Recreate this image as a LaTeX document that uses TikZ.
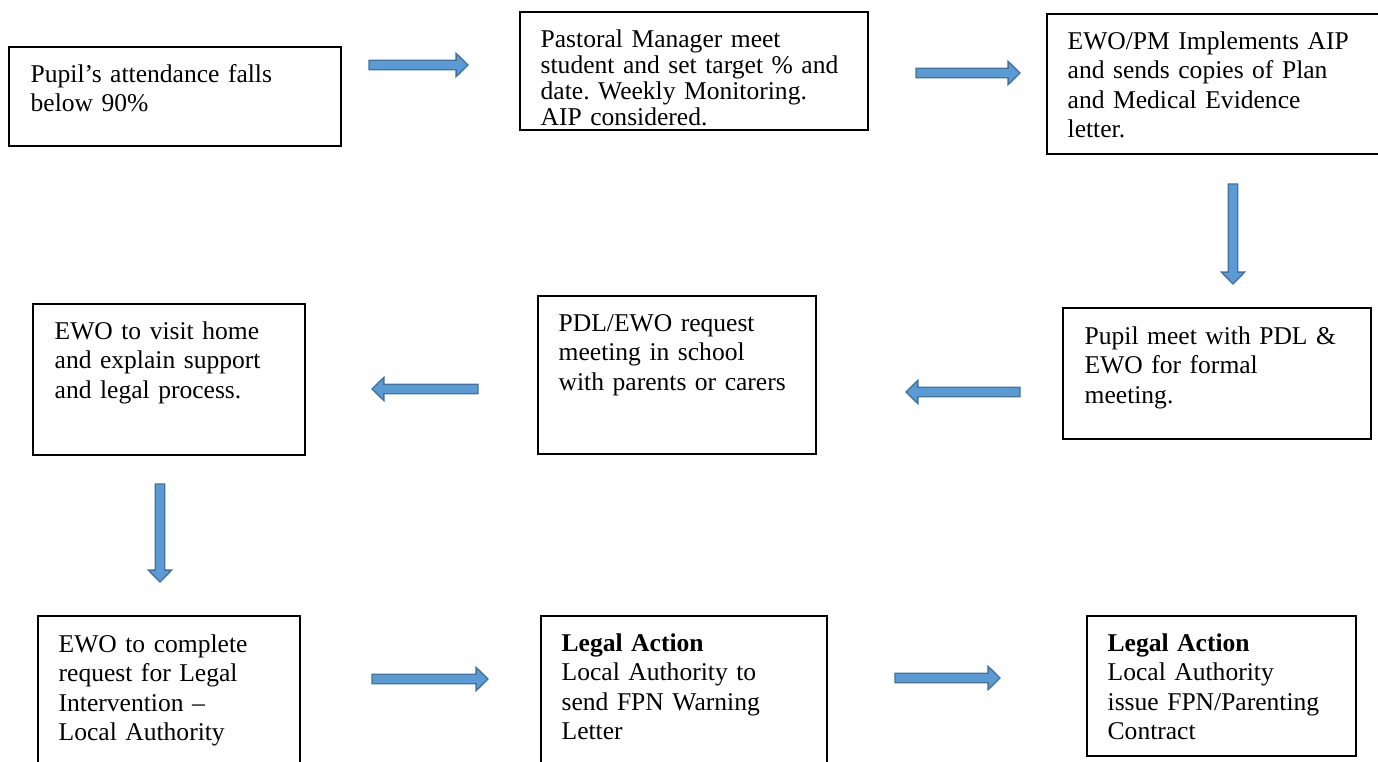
\documentclass[tikz,border=0pt]{standalone}
\usepackage{fontspec}
\setmainfont{Liberation Serif}
\frenchspacing
\usetikzlibrary{calc,fit}
\definecolor{arrowfill}{HTML}{5B9BD5}
\definecolor{arrowline}{HTML}{41719C}

\begin{document}
\begin{tikzpicture}[x=0.016cm,y=-0.016cm,
    stage/.style={draw,line width=0.7pt,inner sep=0pt},
    note/.style={anchor=base west,inner sep=0pt,text width=6cm,align=left,
      font=\fontsize{11.64pt}{13.39pt}\selectfont},
    flow/.style={draw=arrowline,fill=arrowfill,line width=0.6pt,
      to path={let \p1=(\tikztostart),\p2=(\tikztotarget),
        \p3=($(\p2)!5.4pt!(\p1)$) in
        ($(\p1)!2.2pt!90:(\p2)$) -- ($(\p3)!2.2pt!90:(\p2)$) --
        ($(\p3)!5.3pt!90:(\p2)$) -- (\p2) -- ($(\p3)!5.3pt!-90:(\p2)$) --
        ($(\p3)!2.2pt!-90:(\p2)$) -- ($(\p1)!2.2pt!-90:(\p2)$) -- cycle}}]
  \useasboundingbox (0,0) rectangle (1378,762);
  \clip (0,0) rectangle (1378,762);

  \node[stage,fit={(9,47) (341,146)}] (pupil) {};
  \node[note] (pupiltext) at ([shift={(22,36)}]pupil.north west)
    {Pupil’s attendance falls\\below 90\%};
  \node[stage,fit={(520,12) (868,130)}] (manager) {};
  \node[note,font=\fontsize{11.64pt}{11.84pt}\selectfont] (managertext)
    at ([shift={(21,36)}]manager.north west)
    {Pastoral Manager meet\\student and set target \% and\\date. Weekly Monitoring.\\AIP considered.};
  \node[stage,fit={(1047,14) (1400,154)}] (plan) {};
  \node[note] (plantext) at ([shift={(21,36)}]plan.north west)
    {EWO/PM Implements AIP\\and sends copies of Plan\\and Medical Evidence\\letter.};

  \node[stage,fit={(1063,308) (1371,439)}] (formal) {};
  \node[note] (formaltext) at ([shift={(22,37)}]formal.north west)
    {Pupil meet with PDL \&\\EWO for formal\\meeting.};
  \node[stage,fit={(538,296) (816,454)}] (parents) {};
  \node[note] (parentstext) at ([shift={(21,36)}]parents.north west)
    {PDL/EWO request\\meeting in school\\with parents or carers};
  \node[stage,fit={(33,304) (305,455)}] (visit) {};
  \node[note] (visittext) at ([shift={(22,36)}]visit.north west)
    {EWO to visit home\\and explain support\\and legal process.};

  \node[stage,fit={(38,616) (300,790)}] (request) {};
  \node[note] (requesttext) at ([shift={(21,37)}]request.north west)
    {EWO to complete\\request for Legal\\Intervention –\\Local Authority};
  \node[stage,fit={(541,616) (827,790)}] (warning) {};
  \node[note] (warningtext) at ([shift={(21,36)}]warning.north west)
    {\textbf{Legal Action}\\Local Authority to\\send FPN Warning\\Letter};
  \node[stage,fit={(1087,616) (1356,756)}] (contract) {};
  \node[note] (contracttext) at ([shift={(21,36)}]contract.north west)
    {\textbf{Legal Action}\\Local Authority\\issue FPN/Parenting\\Contract};

  \coordinate (pupil-out) at (369,65);
  \coordinate (manager-in) at (468,65);
  \coordinate (manager-out) at (916,73);
  \coordinate (plan-in) at (1020,73);
  \coordinate (plan-out) at (1233,184);
  \coordinate (formal-in) at (1233,284);
  \coordinate (formal-out) at (1020,392);
  \coordinate (parents-in) at (906,392);
  \coordinate (parents-out) at (478,389);
  \coordinate (visit-in) at (372,389);
  \coordinate (visit-out) at (160,484);
  \coordinate (request-in) at (160,582);
  \coordinate (request-out) at (372,679);
  \coordinate (warning-in) at (488,679);
  \coordinate (warning-out) at (895,678);
  \coordinate (contract-in) at (1000,678);

  \draw[flow] (pupil-out) to (manager-in);
  \draw[flow] (manager-out) to (plan-in);
  \draw[flow] (plan-out) to (formal-in);
  \draw[flow] (formal-out) to (parents-in);
  \draw[flow] (parents-out) to (visit-in);
  \draw[flow] (visit-out) to (request-in);
  \draw[flow] (request-out) to (warning-in);
  \draw[flow] (warning-out) to (contract-in);
\end{tikzpicture}
\end{document}
